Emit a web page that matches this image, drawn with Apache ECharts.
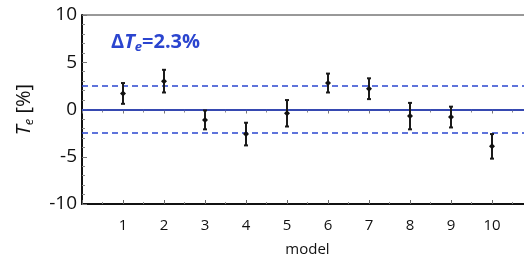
<!DOCTYPE html>
<html>
<head>
<meta charset="utf-8">
<script src="https://cdn.jsdelivr.net/npm/echarts@6/dist/echarts.min.js"></script>
<style>
  html, body { margin: 0; padding: 0; background: #fff; }
  #chart { width: 524px; height: 256px; }
</style>
</head>
<body>
<div id="chart"></div>
<script>
var models = [1, 2, 3, 4, 5, 6, 7, 8, 9, 10];
var values = [1.7, 3.0, -1.1, -2.6, -0.4, 2.8, 2.2, -0.7, -0.8, -3.9];
var errors = [1.1, 1.2, 1.0, 1.2, 1.4, 1.0, 1.1, 1.4, 1.1, 1.3];
var spread = 2.5;
var yTicks = [-10, -5, 0, 5, 10];

var myChart = echarts.init(document.getElementById("chart"));
var font = "'Open Sans', 'DejaVu Sans', sans-serif";
var blue = "#2b45cf";

var barData = [];
for (var i = 0; i < models.length; i++) {
  barData.push([models[i], values[i], errors[i]]);
}

var renderBar = function (params, api) {
  var x = api.value(0);
  var v = api.value(1);
  var e = api.value(2);
  var top = api.coord([x, v + e]);
  var bot = api.coord([x, v - e]);
  var mid = api.coord([x, v]);
  var st = { stroke: "#1a1a1a", lineWidth: 2 };
  return {
    type: "group",
    children: [
      { type: "line", shape: { x1: top[0], y1: top[1], x2: bot[0], y2: bot[1] }, style: st },
      { type: "line", shape: { x1: top[0] - 2, y1: top[1], x2: top[0] + 2, y2: top[1] }, style: st },
      { type: "line", shape: { x1: bot[0] - 2, y1: bot[1], x2: bot[0] + 2, y2: bot[1] }, style: st },
      {
        type: "polygon",
        shape: { points: [[mid[0], mid[1] - 3], [mid[0] + 3, mid[1]], [mid[0], mid[1] + 3], [mid[0] - 3, mid[1]]] },
        style: { fill: "#111" }
      }
    ]
  };
};

var option = {
  animation: false,
  title: {
    text: "{d|Δ}{t|T}{s|e}{d|=2.3%}",
    left: 106,
    top: 26,
    textStyle: {
      rich: {
        d: { color: blue, fontSize: 20, fontFamily: font },
        t: { color: blue, fontSize: 20, fontStyle: "italic", fontFamily: font },
        s: { color: blue, fontSize: 13, fontStyle: "italic", fontFamily: font, verticalAlign: "bottom", padding: [10, 0, 0, 0] }
      }
    }
  },
  grid: {
    left: 82,
    top: 15,
    width: 451,
    height: 189,
    outerBoundsMode: "none",
    show: true,
    borderColor: "#333",
    borderWidth: 1
  },
  xAxis: [
    {
      type: "value",
      min: 0,
      max: 11,
      interval: 1,
      name: "model",
      nameLocation: "middle",
      nameGap: 38,
      nameTextStyle: { color: "#111", fontSize: 15, fontFamily: font },
      splitLine: { show: false },
      axisLine: { onZero: false, lineStyle: { color: "#111", width: 2 } },
      axisTick: { inside: true, length: 4, lineStyle: { color: "#666" } },
      minorTick: { show: true, splitNumber: 2, length: 2, lineStyle: { color: "#888" } },
      axisLabel: {
        color: "#111",
        fontSize: 15,
        fontFamily: font,
        margin: 14,
        formatter: function (v) {
          return models.indexOf(v) >= 0 ? String(v) : "";
        }
      }
    },
    {
      type: "value",
      position: "top",
      min: 0,
      max: 11,
      interval: 1,
      splitLine: { show: false },
      axisLine: { lineStyle: { color: "#222", width: 1.5 } },
      axisTick: { inside: true, length: 4, lineStyle: { color: "#777" } },
      minorTick: { show: true, splitNumber: 2, length: 3, lineStyle: { color: "#888" } },
      axisLabel: { show: false }
    }
  ],
  yAxis: {
    type: "value",
    min: -10,
    max: 10,
    interval: 5,
    name: "{t|T}{s|e}{n| [%]}",
    nameLocation: "middle",
    nameRotate: 90,
    nameGap: 46,
    nameTextStyle: {
      rich: {
        t: { color: "#111", fontSize: 20, fontStyle: "italic", fontFamily: font },
        s: { color: "#111", fontSize: 13, fontStyle: "italic", fontFamily: font, verticalAlign: "bottom", padding: [10, 0, 0, 0] },
        n: { color: "#111", fontSize: 20, fontFamily: font }
      }
    },
    splitLine: { show: false },
    axisLine: { lineStyle: { color: "#111", width: 2 } },
    axisTick: { inside: true, length: 5, lineStyle: { color: "#777" } },
    minorTick: { show: true, splitNumber: 5, length: 3, lineStyle: { color: "#888" } },
    axisLabel: {
      color: "#111",
      fontSize: 19,
      fontFamily: font,
      margin: 5,
      formatter: function (v) {
        return yTicks.indexOf(v) >= 0 ? String(v) : "";
      }
    }
  },
  series: [
    {
      type: "line",
      data: [],
      markLine: {
        silent: true,
        symbol: "none",
        label: { show: false },
        data: [
          { yAxis: 0, lineStyle: { color: blue, width: 1.5, type: "solid" } },
          { yAxis: spread, lineStyle: { color: blue, width: 1.5, type: [6, 4] } },
          { yAxis: -spread, lineStyle: { color: blue, width: 1.5, type: [6, 4] } }
        ]
      }
    },
    {
      type: "custom",
      renderItem: renderBar,
      data: barData,
      z: 5
    }
  ]
};
myChart.setOption(option);
</script>
</body>
</html>
